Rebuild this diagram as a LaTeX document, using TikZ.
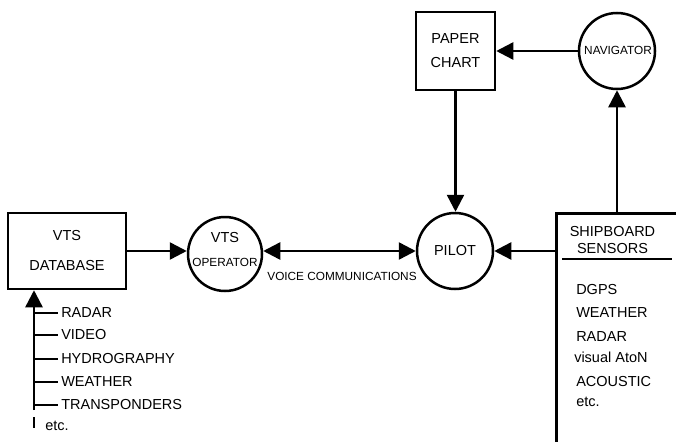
\documentclass[tikz,border=0pt]{standalone}
\usepackage{fontspec}
\setmainfont{Liberation Sans}
\usetikzlibrary{arrows.meta, positioning}

\begin{document}
\begin{tikzpicture}[x=1pt, y=-1pt, line width=2.5pt,
          box/.style={draw, rectangle, inner sep=0pt, align=center},
          circ/.style={draw, circle, inner sep=0pt},
          bigtxt/.style={font=\fontsize{14.5}{17}\selectfont, inner sep=0pt},
          smalltxt/.style={font=\fontsize{11.8}{14}\selectfont, inner sep=0pt},
          flow/.style={-{Triangle[length=17pt, width=17pt]}},
          twoway/.style={{Triangle[length=17pt, width=17pt]}-{Triangle[length=17pt, width=17pt]}}
        ]
        \useasboundingbox (0,0) rectangle (676,441);

        % VTS database and operator
        \node[box, font=\fontsize{14.5}{30}\selectfont, minimum width=118pt,
              minimum height=76pt] (db) at (67,251) {VTS\\DATABASE};
        \node[circ, minimum size=74pt] (op) at (225,254) {};
        \node[bigtxt] (opvts) at (225,238) {VTS};
        \node[smalltxt] (optxt) at (225,262) {OPERATOR};

        % Pilot
        \node[circ, bigtxt, minimum size=76pt] (pilot) at (455,251) {PILOT};

        % Paper chart and navigator
        \node[box, font=\fontsize{14.5}{24}\selectfont, minimum width=79pt,
              minimum height=78pt] (chart) at (455.5,51) {PAPER\\CHART};
        \node[circ, minimum size=76pt] (nav) at (617,51) {};
        \node[smalltxt] (navtxt) at (618,50) {NAVIGATOR};

        % Shipboard sensors
        \node[draw, rectangle, anchor=north west, minimum width=140pt,
              minimum height=240pt] (ship) at (555,212) {};
        \node[bigtxt, align=center] (shiphead) at (612.5,240.5) {SHIPBOARD\\SENSORS};
        \draw (562,259) -- (672,259);
        \foreach \x/\y/\lbl in {575/290/DGPS, 575/313/WEATHER, 575/337/RADAR,
                                573/357/visual AtoN, 575/382/ACOUSTIC, 575/402/etc.}{
          \node[bigtxt, anchor=west] at (\x,\y) {\lbl};
        }

        % VTS inputs
        \coordinate (feed) at (34,410);
        \draw[flow] (feed) -- (feed |- db.south);
        \foreach \y/\lbl in {313/RADAR, 335/VIDEO, 359/HYDROGRAPHY,
                             382/WEATHER, 405/TRANSPONDERS}{
          \node[bigtxt, anchor=west, inner xsep=2pt] (src-\lbl) at (58,\y) {\lbl};
          \draw (feed |- src-\lbl.west) -- (src-\lbl.west);
        }
        \draw (feed) ++(0,7) -- ++(0,11);
        \node[bigtxt, anchor=west] (srcetc) at (44,426) {etc.};

        % Links
        \draw[flow] (db.east) -- (db.east -| op.west);
        \draw[twoway] (op.east |- pilot.west) -- (pilot.west);
        \node[smalltxt] (voice) at (342,276) {VOICE COMMUNICATIONS};
        \draw[flow] (ship.west |- pilot.east) -- (pilot.east);
        \draw[flow] (chart.south) -- (chart.south |- pilot.north);
        \draw[flow] (nav.west) -- (nav.west -| chart.east);
        \draw[flow] (ship.north -| nav.south) -- (nav.south);
      \end{tikzpicture}
\end{document}
